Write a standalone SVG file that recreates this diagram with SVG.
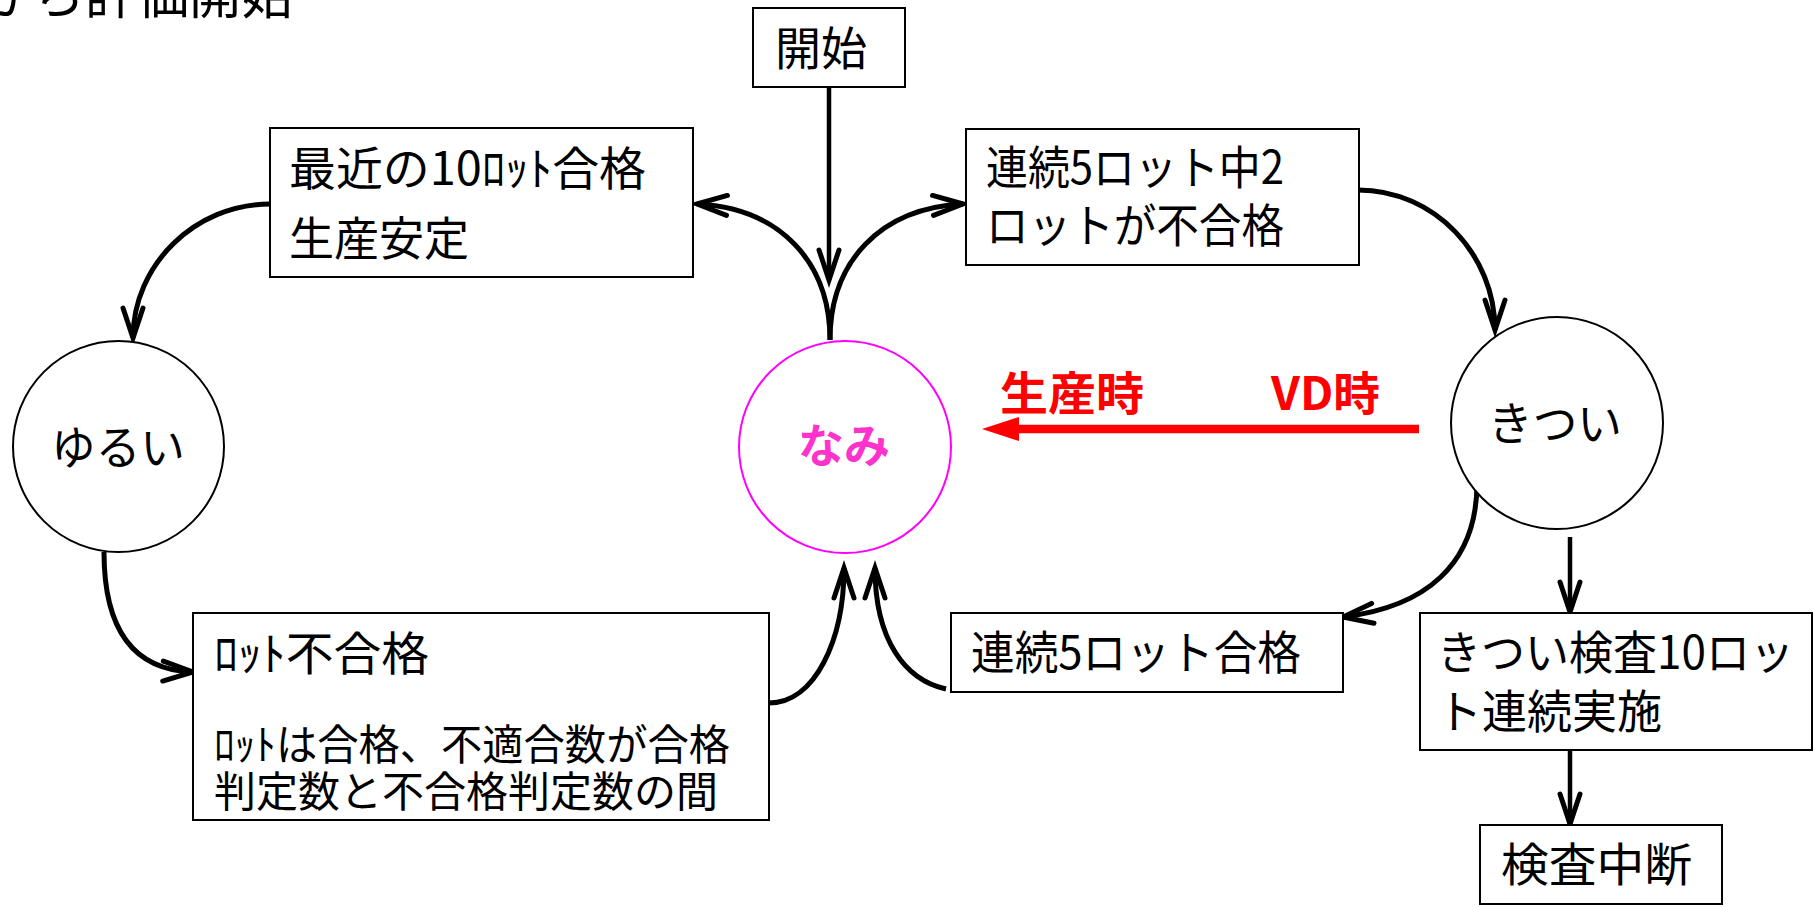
<svg xmlns="http://www.w3.org/2000/svg" width="1814" height="907" viewBox="0 0 1814 907">
<style>
.t{font-family:"Noto Sans CJK JP","Noto Sans",sans-serif;fill:#000;font-size:46px}
.s{font-size:42px}
.box{fill:#fff;stroke:#000;stroke-width:2}
.circ{fill:#fff;stroke:#000;stroke-width:2}
.c{fill:none;stroke:#000;stroke-width:5;marker-end:url(#ah)}
.l{fill:none;stroke:#000;stroke-width:4.5;marker-end:url(#ah)}
.red{font-family:"Noto Sans CJK JP","Noto Sans",sans-serif;fill:#FF0000;font-size:46px;font-weight:bold}
</style>
<defs>
<marker id="ah" markerUnits="userSpaceOnUse" markerWidth="40" markerHeight="30" viewBox="-36 -15 40 30" refX="0" refY="0" orient="auto" overflow="visible">
<path d="M-30,-10 L0,0 L-30,10" fill="none" stroke="#000" stroke-width="5" stroke-linecap="round" stroke-linejoin="miter"/>
</marker>
</defs>
<rect width="1814" height="907" fill="#fff"/>

<g id="title">
<text class="t" x="-19" y="14" style="font-size:52px" textLength="312" lengthAdjust="spacingAndGlyphs">から評価開始</text>
</g>

<g id="connectors">
<path class="l" d="M829,87 L829,280"/>
<path class="c" d="M830,340 C830,262 780,208 697,204"/>
<path class="c" d="M830,340 C830,262 880,208 963,204"/>
<path class="c" d="M1358,190 C1435,190 1495,255 1495,330"/>
<path class="c" d="M270,204 C195,204 133,265 133,338"/>
<path class="c" d="M104,552 C104,625 130,670 193,672"/>
<path class="c" d="M769,703 C815,703 844,640 844,568"/>
<path class="c" d="M946,689 C905,680 875,640 875,568"/>
<path class="c" d="M1477,483 C1477,565 1425,607 1343,617"/>
<path class="l" d="M1570,537 L1570,612"/>
<path class="l" d="M1570,750 L1570,824"/>
<g id="red-arrow">
<line x1="1419" y1="429" x2="1015" y2="429" stroke="#FF0000" stroke-width="8.5"/>
<polygon points="982,429 1019,417 1019,441" fill="#FF0000"/>
<text class="red" x="1000" y="410" textLength="144" lengthAdjust="spacingAndGlyphs">生産時</text>
<text class="red" x="1271" y="410" textLength="109" lengthAdjust="spacingAndGlyphs">VD時</text>
</g>
</g>

<g id="start">
<rect class="box" x="753" y="8" width="152" height="79"/>
<text class="t" x="775" y="65" textLength="92" lengthAdjust="spacingAndGlyphs">開始</text>
</g>

<g id="recent10">
<rect class="box" x="270" y="128" width="423" height="149"/>
<text class="t" x="289" y="185" textLength="357" lengthAdjust="spacingAndGlyphs">最近の10ﾛｯﾄ合格</text>
<text class="t" x="289" y="255" textLength="180" lengthAdjust="spacingAndGlyphs">生産安定</text>
</g>

<g id="consec2fail">
<rect class="box" x="966" y="129" width="393" height="136"/>
<text class="t" x="986" y="184" textLength="298" lengthAdjust="spacingAndGlyphs">連続5ロット中2</text>
<text class="t" x="986" y="242" textLength="298" lengthAdjust="spacingAndGlyphs">ロットが不合格</text>
</g>

<g id="nami">
<circle cx="845" cy="447" r="106" fill="#fff" stroke="#FF00FF" stroke-width="2"/>
<text x="798" y="462" font-family="&quot;Noto Sans CJK JP&quot;,sans-serif" font-size="46" font-weight="bold" fill="#FF33CC" textLength="92" lengthAdjust="spacingAndGlyphs">なみ</text>
</g>

<g id="yurui">
<circle class="circ" cx="118.5" cy="446.5" r="105.5"/>
<text class="t" x="51" y="464" textLength="134" lengthAdjust="spacingAndGlyphs">ゆるい</text>
</g>

<g id="kitsui">
<circle class="circ" cx="1557" cy="423" r="106"/>
<text class="t" x="1488" y="440" textLength="134" lengthAdjust="spacingAndGlyphs">きつい</text>
</g>

<g id="lotfail">
<rect class="box" x="193" y="613" width="576" height="207"/>
<text class="t" x="214" y="670" textLength="215" lengthAdjust="spacingAndGlyphs">ﾛｯﾄ不合格</text>
<text class="t s" x="214" y="760" textLength="516" lengthAdjust="spacingAndGlyphs">ﾛｯﾄは合格、不適合数が合格</text>
<text class="t s" x="214" y="807" textLength="504" lengthAdjust="spacingAndGlyphs">判定数と不合格判定数の間</text>
</g>

<g id="consec5pass">
<rect class="box" x="951" y="613" width="392" height="79"/>
<text class="t" x="971" y="669" textLength="330" lengthAdjust="spacingAndGlyphs">連続5ロット合格</text>
</g>

<g id="tight10">
<rect class="box" x="1420" y="613" width="392" height="137"/>
<text class="t" x="1437" y="669" textLength="357" lengthAdjust="spacingAndGlyphs">きつい検査10ロッ</text>
<text class="t" x="1437" y="728" textLength="225" lengthAdjust="spacingAndGlyphs">ト連続実施</text>
</g>

<g id="stop">
<rect class="box" x="1480" y="825" width="242" height="79"/>
<text class="t" x="1501" y="881" textLength="191" lengthAdjust="spacingAndGlyphs">検査中断</text>
</g>
</svg>
